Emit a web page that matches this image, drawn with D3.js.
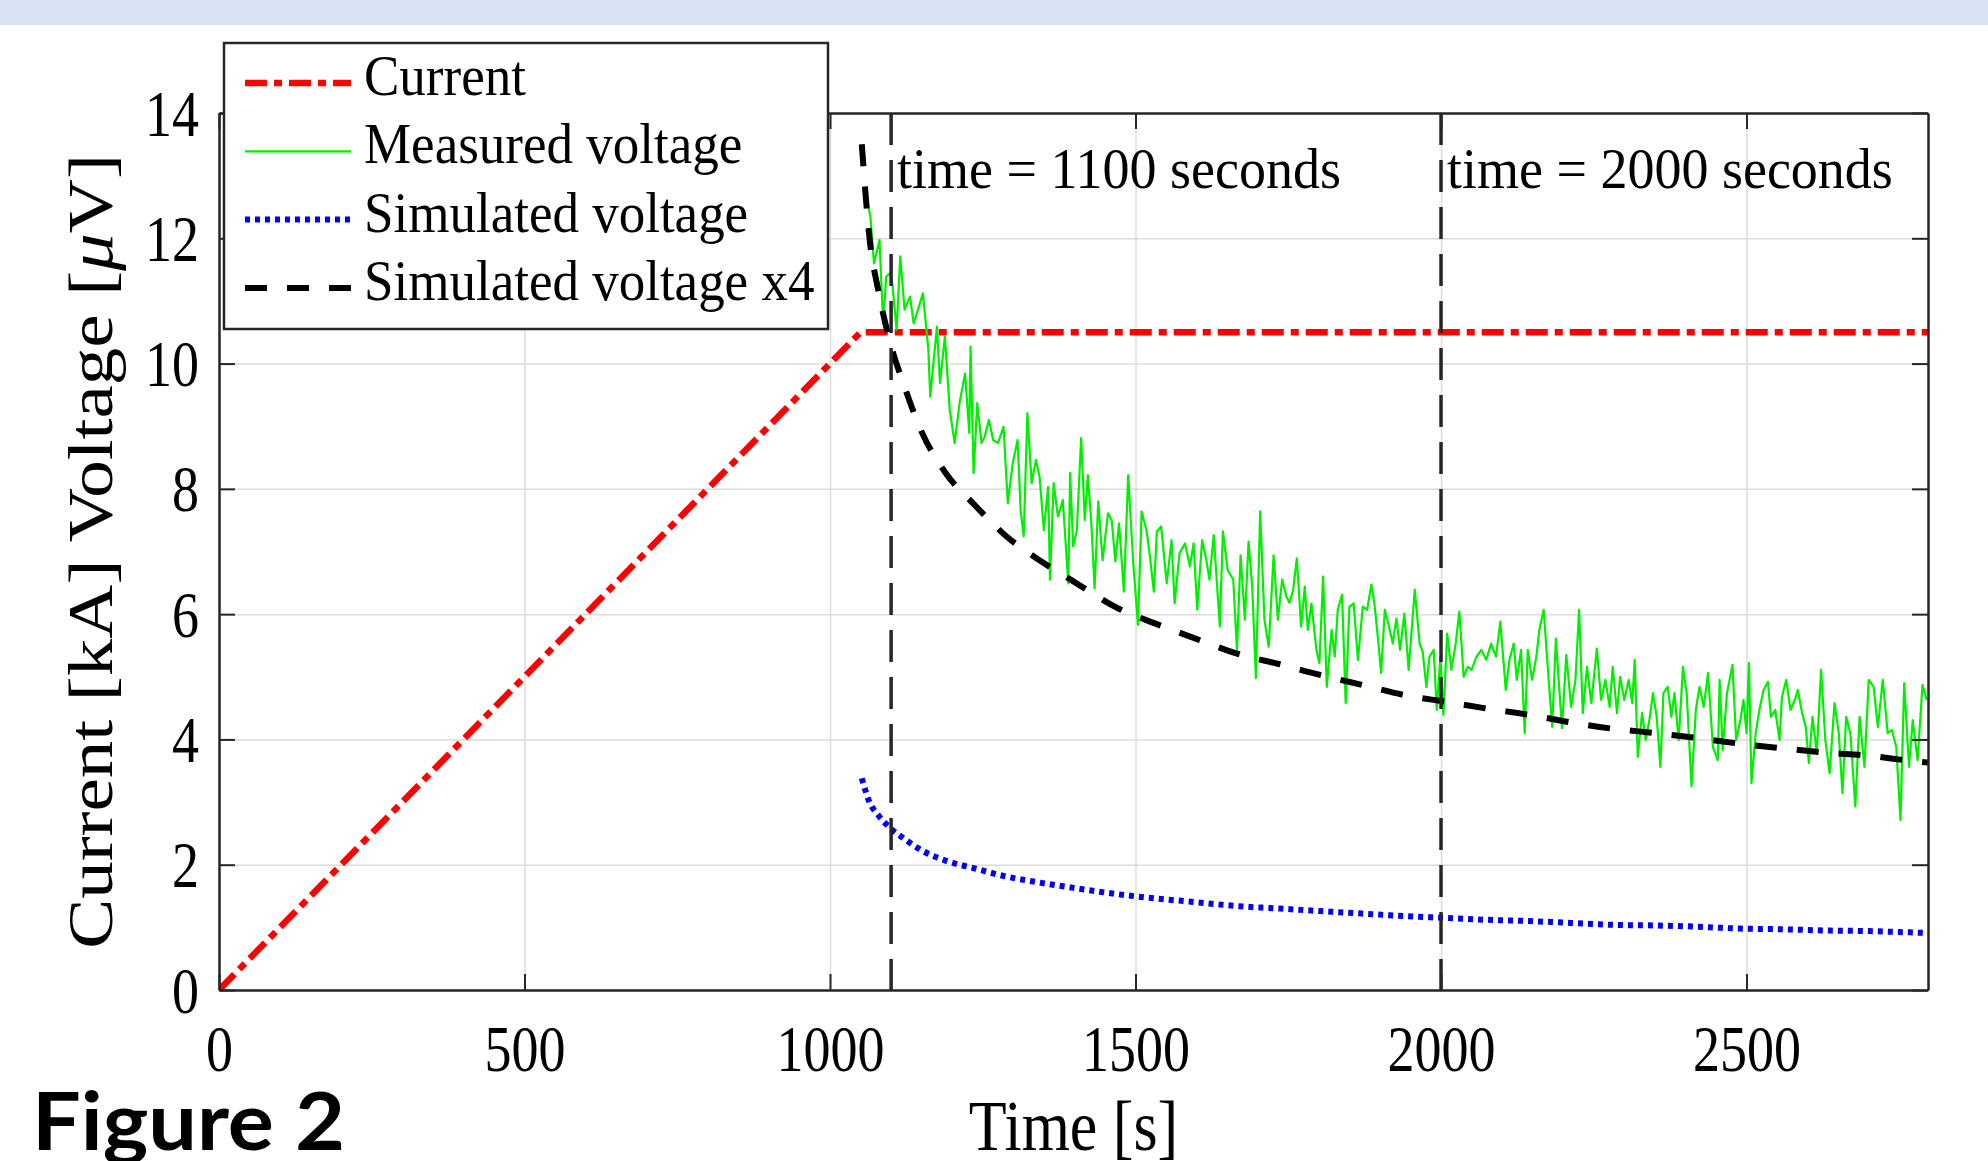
<!DOCTYPE html>
<html>
<head>
<meta charset="utf-8">
<script src="https://cdn.jsdelivr.net/npm/d3@7"></script>
<style>
  body { margin: 0; background: #fff; }
  svg text { font-family: 'Liberation Serif', 'DejaVu Serif', serif; fill: #000; }
</style>
</head>
<body>
<svg id="area" width="1988" height="1161"></svg>
<script>
// ---- data ----
const xTicks = [0, 500, 1000, 1500, 2000, 2500];
const yTicks = [0, 2, 4, 6, 8, 10, 12, 14];
const markerTimes = [1100, 2000];
const markerLabels = ['time = 1100 seconds', 'time = 2000 seconds'];
const legendLabels = ['Current', 'Measured voltage', 'Simulated voltage', 'Simulated voltage x4'];

const currentTime = [0, 1050, 2797];
const currentKA = [0, 10.5, 10.5];

const simTime = [1052, 1065, 1079, 1098, 1122, 1150, 1188, 1237, 1289, 1346, 1399, 1470, 1535, 1601, 1666, 1736,
  1802, 1871, 1939, 2008, 2077, 2146, 2213, 2282, 2352, 2421, 2490, 2557, 2628, 2699, 2767, 2797];
const simVoltage = [3.38, 2.99, 2.79, 2.59, 2.41, 2.23, 2.07, 1.94, 1.81, 1.71, 1.63, 1.53, 1.46, 1.40, 1.34, 1.30,
  1.26, 1.22, 1.18, 1.15, 1.12, 1.10, 1.07, 1.04, 1.03, 1.01, 0.98, 0.97, 0.95, 0.94, 0.92, 0.91];
const simVoltageX4 = [13.5, 11.97, 11.17, 10.35, 9.63, 8.91, 8.27, 7.74, 7.24, 6.84, 6.52, 6.10, 5.84, 5.60, 5.37, 5.20,
  5.03, 4.87, 4.71, 4.60, 4.49, 4.39, 4.27, 4.17, 4.10, 4.02, 3.93, 3.86, 3.79, 3.74, 3.66, 3.63];

// measured voltage [time, µV]
const measured = [
  [1057, 12.80], [1066, 12.35], [1072, 11.60], [1081, 11.97], [1087, 10.64], [1092, 11.39], [1098, 11.44], [1102, 11.28],
  [1109, 10.54], [1115, 11.71], [1122, 10.86], [1131, 11.07], [1137, 10.64], [1144, 10.86], [1152, 11.12], [1161, 10.22],
  [1164, 9.47], [1175, 10.59], [1180, 9.69], [1188, 10.43], [1196, 9.26], [1204, 8.73], [1212, 9.37], [1221, 9.84],
  [1228, 8.89], [1230, 10.27], [1235, 8.25], [1241, 9.37], [1248, 8.73], [1253, 8.83], [1260, 9.10], [1267, 8.78],
  [1275, 8.73], [1284, 8.99], [1291, 7.77], [1299, 8.41], [1307, 8.78], [1312, 7.66], [1317, 7.24], [1323, 9.21],
  [1330, 8.09], [1337, 8.46], [1343, 8.19], [1350, 7.34], [1357, 8.03], [1360, 6.55], [1366, 8.09], [1373, 7.56],
  [1381, 7.82], [1390, 6.49], [1393, 8.25], [1398, 7.08], [1404, 7.34], [1411, 8.81], [1417, 7.50], [1422, 8.22],
  [1428, 7.40], [1433, 6.41], [1439, 7.80], [1446, 6.86], [1455, 7.61], [1461, 7.50], [1467, 6.84], [1473, 7.45],
  [1481, 6.36], [1488, 8.22], [1496, 6.86], [1504, 5.83], [1510, 7.64], [1518, 7.34], [1523, 6.97], [1530, 6.36],
  [1535, 7.32], [1542, 7.40], [1551, 6.49], [1559, 7.18], [1564, 6.17], [1572, 6.97], [1581, 7.13], [1589, 6.76],
  [1595, 7.13], [1601, 6.07], [1609, 7.18], [1616, 6.86], [1621, 6.55], [1628, 7.26], [1638, 5.80], [1643, 7.32],
  [1651, 6.70], [1660, 6.55], [1666, 5.43], [1672, 6.94], [1679, 5.91], [1685, 7.16], [1691, 6.44], [1697, 4.98],
  [1704, 7.64], [1711, 5.91], [1718, 5.48], [1726, 6.94], [1733, 5.91], [1740, 6.55], [1747, 6.28], [1752, 6.18],
  [1758, 6.39], [1764, 6.89], [1771, 5.80], [1777, 6.44], [1782, 5.75], [1788, 6.17], [1796, 5.43], [1801, 5.22],
  [1807, 6.60], [1813, 4.84], [1821, 5.75], [1826, 5.32], [1831, 6.07], [1838, 6.31], [1844, 4.58], [1850, 6.12],
  [1857, 6.17], [1864, 5.27], [1872, 6.12], [1879, 6.07], [1886, 6.47], [1891, 6.17], [1897, 5.59], [1902, 5.06],
  [1908, 6.07], [1915, 5.80], [1921, 5.53], [1927, 5.93], [1933, 5.43], [1940, 6.01], [1947, 5.11], [1957, 6.39],
  [1965, 5.53], [1970, 5.40], [1976, 4.84], [1981, 5.32], [1988, 5.43], [1993, 4.47], [1999, 5.32], [2004, 4.39],
  [2010, 5.69], [2017, 5.11], [2024, 5.53], [2030, 6.04], [2037, 5.00], [2044, 5.16], [2050, 5.11], [2058, 5.32],
  [2066, 5.43], [2074, 5.27], [2082, 5.53], [2090, 5.32], [2097, 5.88], [2106, 4.79], [2112, 5.27], [2119, 5.53],
  [2124, 4.95], [2131, 5.43], [2137, 4.10], [2142, 5.43], [2149, 4.95], [2156, 5.32], [2161, 5.75], [2168, 6.07],
  [2175, 5.11], [2182, 4.20], [2188, 5.61], [2194, 4.74], [2198, 4.18], [2205, 5.35], [2213, 4.52], [2220, 4.95],
  [2226, 6.07], [2232, 4.42], [2239, 5.16], [2246, 4.58], [2255, 5.45], [2262, 4.63], [2269, 4.95], [2276, 4.52],
  [2281, 5.16], [2288, 4.42], [2293, 5.00], [2300, 4.63], [2307, 4.95], [2313, 4.58], [2317, 5.27], [2322, 3.72],
  [2329, 4.42], [2335, 3.99], [2341, 4.31], [2347, 4.74], [2353, 4.36], [2359, 3.56], [2364, 4.74], [2371, 4.84],
  [2377, 4.36], [2382, 4.74], [2389, 3.99], [2396, 5.16], [2402, 4.74], [2410, 3.25], [2417, 4.47], [2423, 4.84],
  [2430, 4.52], [2437, 5.06], [2445, 3.88], [2453, 3.67], [2456, 4.95], [2461, 3.83], [2468, 4.74], [2477, 5.19],
  [2483, 3.99], [2490, 4.31], [2495, 4.63], [2500, 4.10], [2504, 5.22], [2508, 3.30], [2515, 4.10], [2521, 4.47],
  [2528, 4.79], [2535, 4.92], [2540, 4.36], [2547, 4.47], [2554, 3.99], [2558, 4.68], [2565, 4.95], [2572, 4.47],
  [2579, 4.63], [2584, 4.79], [2591, 4.42], [2597, 4.20], [2602, 3.62], [2608, 4.36], [2615, 3.78], [2622, 5.11],
  [2629, 3.99], [2636, 3.46], [2644, 4.58], [2651, 4.10], [2657, 3.14], [2663, 4.36], [2670, 4.10], [2678, 2.93],
  [2685, 4.36], [2693, 3.56], [2700, 4.95], [2708, 4.84], [2715, 4.20], [2723, 4.95], [2731, 4.10], [2738, 4.15],
  [2745, 3.88], [2752, 2.71], [2758, 4.90], [2766, 3.56], [2772, 4.31], [2780, 3.67], [2788, 4.87], [2795, 4.63],
];

// ---- layout ----
const width = 1988;
const height = 1161;
const plot = { left: 219, right: 1928, top: 113, bottom: 990 };
const axisColor = '#262626';

const svg = d3.select('#area');

const x = d3.scaleLinear().domain([0, 2797]).range([plot.left, plot.right]);
const y = d3.scaleLinear().domain([0, 14]).range([plot.bottom, plot.top]);

// slide header band
svg.append('rect')
  .attr('width', width)
  .attr('height', 25)
  .attr('fill', '#dae3f3');

// grid
svg.append('g')
  .attr('transform', `translate(0, ${plot.bottom})`)
  .call(d3.axisBottom(x).tickValues(xTicks.slice(1)).tickSize(-(plot.bottom - plot.top)).tickFormat(''))
  .call((g) => g.select('.domain').remove())
  .selectAll('line')
  .attr('stroke', '#dcdcdc')
  .attr('stroke-width', 1.5);

svg.append('g')
  .attr('transform', `translate(${plot.left}, 0)`)
  .call(d3.axisLeft(y).tickValues(yTicks.slice(1, -1)).tickSize(-(plot.right - plot.left)).tickFormat(''))
  .call((g) => g.select('.domain').remove())
  .selectAll('line')
  .attr('stroke', '#dcdcdc')
  .attr('stroke-width', 1.5);

// series
svg.append('clipPath').attr('id', 'clip')
  .append('rect')
  .attr('x', plot.left)
  .attr('y', plot.top)
  .attr('width', plot.right - plot.left)
  .attr('height', plot.bottom - plot.top);

const line = d3.line().x((d) => x(d[0])).y((d) => y(d[1]));
const smooth = d3.line().x((d) => x(d[0])).y((d) => y(d[1])).curve(d3.curveMonotoneX);

const series = svg.append('g').attr('clip-path', 'url(#clip)');

const styles = [
  { color: '#ff0000', width: 6.5, dash: '22 7 8 7' },
  { color: '#00f000', width: 2.2, dash: null },
  { color: '#0000ff', width: 6, dash: '5 5' },
  { color: '#000000', width: 6, dash: '22 20' },
];

series.append('path')
  .datum(d3.zip(currentTime, currentKA))
  .attr('d', line)
  .attr('fill', 'none')
  .attr('stroke', styles[0].color)
  .attr('stroke-width', styles[0].width)
  .attr('stroke-dasharray', styles[0].dash);

series.append('path')
  .datum(measured)
  .attr('d', line)
  .attr('fill', 'none')
  .attr('stroke', styles[1].color)
  .attr('stroke-width', styles[1].width)
  .attr('stroke-linejoin', 'round');

series.append('path')
  .datum(d3.zip(simTime, simVoltage))
  .attr('d', smooth)
  .attr('fill', 'none')
  .attr('stroke', styles[2].color)
  .attr('stroke-width', styles[2].width)
  .attr('stroke-dasharray', styles[2].dash);

series.append('path')
  .datum(d3.zip(simTime, simVoltageX4))
  .attr('d', smooth)
  .attr('fill', 'none')
  .attr('stroke', styles[3].color)
  .attr('stroke-width', styles[3].width)
  .attr('stroke-dasharray', styles[3].dash);

// vertical markers
svg.selectAll('.marker')
  .data(markerTimes)
  .enter()
  .append('line')
  .attr('class', 'marker')
  .attr('x1', (d) => x(d))
  .attr('x2', (d) => x(d))
  .attr('y1', plot.top)
  .attr('y2', plot.bottom)
  .attr('stroke', axisColor)
  .attr('stroke-width', 3.5)
  .attr('stroke-dasharray', '32 15');

svg.selectAll('.marker-label')
  .data(markerTimes)
  .enter()
  .append('text')
  .attr('class', 'marker-label')
  .attr('transform', (d) => `translate(${x(d) + 6}, 188) scale(1, 1.05)`)
  .attr('font-size', 54)
  .text((d, i) => markerLabels[i]);

// axes box with inward ticks
const tickLen = 16;
const styleAxis = (g) => {
  g.attr('color', axisColor).attr('font-family', null).attr('font-size', 54);
  g.select('.domain').attr('stroke-width', 2.5);
  g.selectAll('.tick line').attr('stroke-width', 2);
};

svg.append('g')
  .attr('transform', `translate(0, ${plot.bottom})`)
  .call(d3.axisBottom(x).tickValues(xTicks).tickSize(-tickLen).tickSizeOuter(0).tickFormat(d3.format('d')))
  .call(styleAxis)
  .selectAll('.tick text')
  .attr('y', null)
  .attr('dy', null)
  .attr('fill', '#000')
  .attr('transform', 'translate(0, 81) scale(1, 1.2)');

svg.append('g')
  .attr('transform', `translate(0, ${plot.top})`)
  .call(d3.axisTop(x).tickValues(xTicks).tickSize(-tickLen).tickSizeOuter(0).tickFormat(''))
  .call(styleAxis);

svg.append('g')
  .attr('transform', `translate(${plot.left}, 0)`)
  .call(d3.axisLeft(y).tickValues(yTicks).tickSize(-tickLen).tickSizeOuter(0).tickFormat(d3.format('d')))
  .call(styleAxis)
  .selectAll('.tick text')
  .attr('x', null)
  .attr('dy', null)
  .attr('fill', '#000')
  .attr('text-anchor', 'end')
  .attr('transform', 'translate(-20, 22) scale(1, 1.2)');

svg.append('g')
  .attr('transform', `translate(${plot.right}, 0)`)
  .call(d3.axisRight(y).tickValues(yTicks).tickSize(-tickLen).tickSizeOuter(0).tickFormat(''))
  .call(styleAxis);

// axis titles
svg.append('text')
  .attr('transform', `translate(${(plot.left + plot.right) / 2}, 1150) scale(1, 1.15)`)
  .attr('text-anchor', 'middle')
  .attr('font-size', 62)
  .text('Time [s]');

const yTitle = svg.append('text')
  .attr('transform', `translate(112, ${(plot.top + plot.bottom) / 2}) scale(1, 1.19) rotate(-90)`)
  .attr('text-anchor', 'middle')
  .attr('font-size', 63);
yTitle.append('tspan').text('Current [kA] Voltage [');
yTitle.append('tspan').attr('font-style', 'italic').text('μ');
yTitle.append('tspan').text('V]');

// legend
const legend = svg.append('g');
legend.append('rect')
  .attr('x', 224)
  .attr('y', 43)
  .attr('width', 604)
  .attr('height', 286)
  .attr('fill', '#fff')
  .attr('stroke', axisColor)
  .attr('stroke-width', 2.5);

const rows = legend.selectAll('.row')
  .data(legendLabels)
  .enter()
  .append('g')
  .attr('class', 'row')
  .attr('transform', (d, i) => `translate(0, ${95 + i * 68.3})`);

rows.append('line')
  .attr('x1', 245)
  .attr('x2', 351)
  .attr('y1', -12)
  .attr('y2', -12)
  .attr('stroke', (d, i) => styles[i].color)
  .attr('stroke-width', (d, i) => styles[i].width)
  .attr('stroke-dasharray', (d, i) => styles[i].dash);

rows.append('text')
  .attr('transform', 'translate(364, 0) scale(1, 1.06)')
  .attr('font-size', 53)
  .text((d) => d);

// caption
svg.append('text')
  .attr('x', 32)
  .attr('y', 1150)
  .attr('font-size', 80)
  .attr('font-weight', 700)
  .style('font-family', 'Lato, "Open Sans", sans-serif')
  .attr('textLength', 313)
  .attr('lengthAdjust', 'spacingAndGlyphs')
  .text('Figure 2');
</script>
</body>
</html>
